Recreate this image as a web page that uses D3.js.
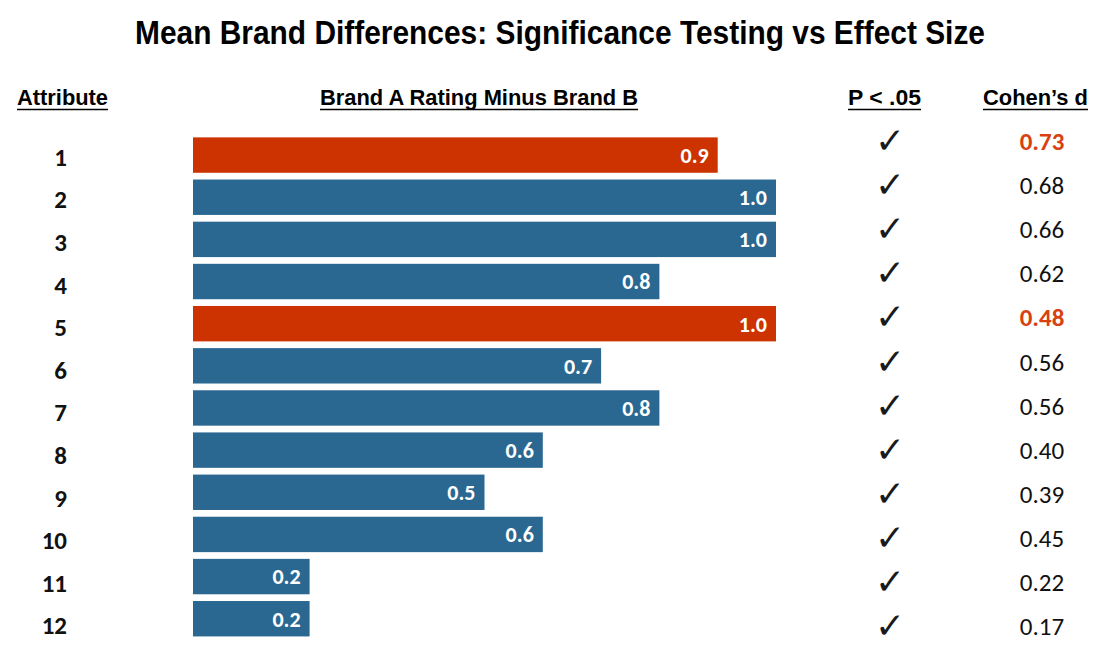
<!DOCTYPE html>
<html><head><meta charset="utf-8">
<script src="https://cdn.jsdelivr.net/npm/d3@7"></script>
<style>
html,body{margin:0;padding:0;background:#fff;}
svg{display:block;}
</style></head>
<body><svg id="c" width="1112" height="660"></svg>
<script>
const attributes = ["1","2","3","4","5","6","7","8","9","10","11","12"];
const differences = [0.9,1.0,1.0,0.8,1.0,0.7,0.8,0.6,0.5,0.6,0.2,0.2];
const significant = [true,true,true,true,true,true,true,true,true,true,true,true];
const cohensD = ["0.73","0.68","0.66","0.62","0.48","0.56","0.56","0.40","0.39","0.45","0.22","0.17"];
const highlighted = ["1","5"];
const headers = ["Attribute","Brand A Rating Minus Brand B","P < .05","Cohen\u2019s d"];
const title = "Mean Brand Differences: Significance Testing vs Effect Size";

const RED = "#CC3300", BLUE = "#2B6891";
const narrow = "'Liberation Sans Narrow','Arial Narrow','Liberation Sans',Arial,sans-serif";
const body = "Carlito,Calibri,Lato,sans-serif";

const svg = d3.select("#c");

svg.append("text").attr("x",560).attr("y",44).attr("text-anchor","middle")
  .attr("font-family",narrow).attr("font-weight","bold").attr("font-size",34)
  .attr("textLength",850).attr("lengthAdjust","spacingAndGlyphs")
  .attr("fill","#000").text(title);

const headerX = [62.5,479,884.5,1035.5];
const headerW = [91,318,73,105];
const hdr = svg.selectAll("text.hdr").data(headers).join("text").attr("class","hdr")
  .attr("x",(d,i)=>headerX[i]).attr("y",105).attr("text-anchor","middle")
  .attr("font-family",narrow).attr("font-weight","bold").attr("font-size",22)
  .attr("textLength",(d,i)=>headerW[i]).attr("lengthAdjust","spacingAndGlyphs")
  .attr("fill","#000").text(d=>d);
hdr.each(function(d,i){
  svg.append("line").attr("x1",headerX[i]-headerW[i]/2).attr("x2",headerX[i]+headerW[i]/2)
    .attr("y1",109.5).attr("y2",109.5).attr("stroke","#000").attr("stroke-width",1.6);
});

const x = d3.scaleLinear().domain([0,1]).range([193,776]);
const yBar = d3.scaleBand().domain(attributes).range([134,134+12*42.15]).paddingInner(0.16).paddingOuter(0.08);
const yLab = d3.scaleBand().domain(attributes).range([135.4,135.4+12*42.6]);
const yRight = d3.scaleBand().domain(attributes).range([118,118+12*44.1]);

const rows = attributes.map((a,i)=>({a,v:differences[i],s:significant[i],d:cohensD[i],hi:highlighted.includes(a)}));

svg.selectAll("rect.bar").data(rows).join("rect").attr("class","bar")
  .attr("x",x(0)).attr("y",d=>yBar(d.a)).attr("width",d=>x(d.v)-x(0)).attr("height",yBar.bandwidth())
  .attr("fill",d=>d.hi?RED:BLUE);

svg.selectAll("text.val").data(rows).join("text").attr("class","val")
  .attr("x",d=>x(d.v)-9).attr("y",d=>yBar(d.a)+yBar.bandwidth()/2).attr("dy","0.36em")
  .attr("text-anchor","end").attr("font-family",body).attr("font-weight","bold").attr("font-size",22)
  .attr("fill","#fff").text(d=>d3.format(".1f")(d.v));

svg.selectAll("text.att").data(rows).join("text").attr("class","att")
  .attr("x",67).attr("y",d=>yLab(d.a)+yLab.bandwidth()/2).attr("dy","0.36em")
  .attr("text-anchor","end").attr("font-family",body).attr("font-weight","900").attr("font-size",25)
  .attr("fill","#111").text(d=>d.a);

svg.selectAll("text.chk").data(rows.filter(d=>d.s)).join("text").attr("class","chk")
  .attr("x",890).attr("y",d=>yRight(d.a)+yRight.bandwidth()/2).attr("dy","0.36em")
  .attr("text-anchor","middle").attr("font-family","'DejaVu Sans',sans-serif").attr("font-size",36)
  .attr("fill","#1a1a1a").text("\u2713");

svg.selectAll("text.cd").data(rows).join("text").attr("class","cd")
  .attr("x",1042).attr("y",d=>yRight(d.a)+yRight.bandwidth()/2+1).attr("dy","0.36em")
  .attr("text-anchor","middle").attr("font-family",body).attr("font-weight",d=>d.hi?"bold":"normal")
  .attr("font-size",25).attr("fill",d=>d.hi?"#D9410F":"#111").text(d=>d.d);
</script></body></html>
